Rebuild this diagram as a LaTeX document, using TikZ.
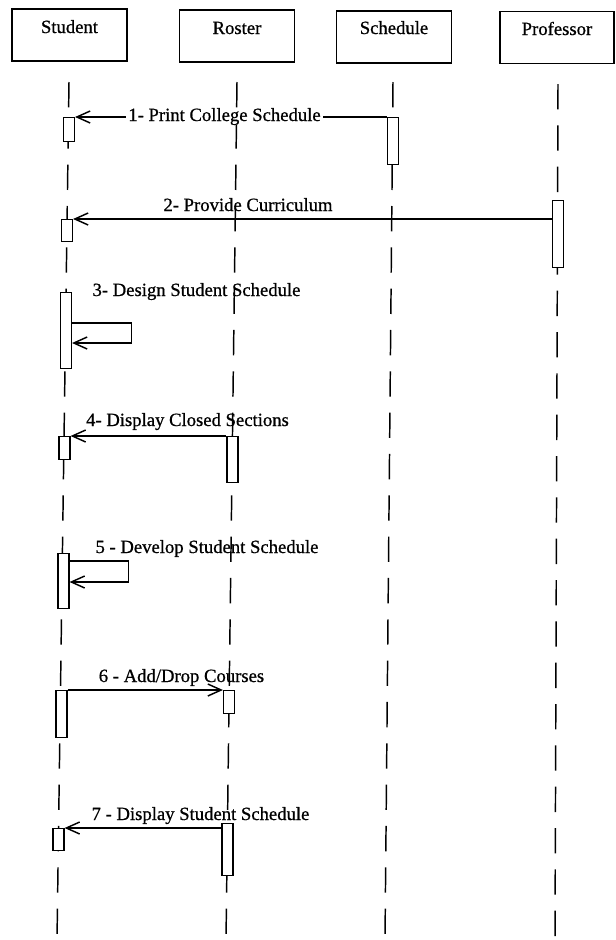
\documentclass[tikz,border=0pt]{standalone}
\usepackage{fontspec}
\setmainfont{Liberation Serif}
\newfontfamily\scanfont{Liberation Serif}[FakeBold=0.7]
\usetikzlibrary{arrows.meta,calc}
\begin{document}
\begin{tikzpicture}[x=0.75pt,y=-0.75pt,
  every node/.style={font=\scanfont\fontsize{14}{16}\selectfont},
  obj/.style={draw, line width=1.1pt, minimum width=86.25pt, minimum height=39pt, inner sep=0pt},
  life/.style={line width=1.1pt, dash pattern=on 19pt off 12pt},
  act/.style={draw, fill=white, line width=1.1pt, minimum width=8pt, inner sep=0pt, anchor=north},
  msg/.style={line width=1.1pt, -{Straight Barb[length=10pt,width=9pt,line width=1.1pt]}},
  txt/.style={anchor=base, inner sep=0pt},
]
\useasboundingbox (0,0) rectangle (615,940);
\fill[white] (0,0) rectangle (615,940);

% objects
\node[obj] (student) at (69.5,35) {};
\node[obj] (roster) at (237,36) {};
\node[obj] (schedule) at (394,37) {};
\node[obj, minimum width=85.5pt] (professor) at (557,37.5) {};
\node[txt] (studentL) at (69.5,33) {Student};
\node[txt] (rosterL) at (237,34) {Roster};
\node[txt] (scheduleL) at (394,34) {Schedule};
\node[txt] (professorL) at (557,35) {Professor};

% lifelines
\coordinate (sT) at (69,82);  \coordinate (sB) at (57,940);
\coordinate (rT) at (237,82); \coordinate (rB) at (226,940);
\coordinate (cT) at (393,82); \coordinate (cB) at (385,940);
\coordinate (pT) at (558,84); \coordinate (pB) at (555,940);
\draw[life] (sT) -- (sB);
\draw[life] (rT) -- (rB);
\draw[life] (cT) -- (cB);
\draw[life] (pT) -- (pB);

% 1
\node[act, minimum height=18pt] (s1) at (69,117) {};
\node[act, minimum height=35.25pt] (c1) at (393,117) {};
\draw[msg] (c1.north west) -- (s1.north east);
\node[txt, fill=white, inner xsep=1.5pt] (m1) at (224.5,121) {1- Print College Schedule};

% 2
\node[act, minimum height=50.25pt] (p2) at (558,200) {};
\node[act, minimum height=16.5pt] (s2) at (67,219) {};
\draw[msg] ($(p2.north west)+(0,19)$) -- (s2.north east);
\node[txt] (m2) at (248,211) {2- Provide Curriculum};

% 3
\node[act, minimum height=57pt] (s3) at (66,292) {};
\draw[msg] ($(s3.north east)+(0,31)$) -- ++(59.5,0) -- ++(0,20) -- ($(s3.north east)+(0,51)$);
\node[txt] (m3) at (196.5,296) {3- Design Student Schedule};

% 4
\node[act, minimum height=17.25pt] (s4) at (64.5,436) {};
\node[act, minimum height=34.5pt] (r4) at (232.5,436) {};
\draw[msg] (r4.north west) -- (s4.north east);
\node[txt] (m4) at (187.5,426) {4- Display Closed Sections};

% 5
\node[act, minimum height=41.25pt] (s5) at (63.5,553) {};
\draw[msg] ($(s5.north east)+(0,8)$) -- ++(59,0) -- ++(0,21) -- ($(s5.north east)+(0,29)$);
\node[txt] (m5) at (207,553) {5 - Develop Student Schedule};

% 6
\node[act, minimum height=35.25pt] (s6) at (61.5,690) {};
\node[act, minimum height=17.25pt] (r6) at (229,690) {};
\draw[msg] (s6.north east) -- (r6.north west);
\node[txt] (m6) at (181.5,682) {6 - Add/Drop Courses};

% 7
\node[act, minimum height=16.5pt] (s7) at (58.5,828) {};
\node[act, minimum height=39pt] (r7) at (227.5,823) {};
\draw[msg] ($(r7.north west)+(0,5)$) -- (s7.north east);
\node[txt] (m7) at (200.5,820) {7 - Display Student Schedule};
\end{tikzpicture}
\end{document}
